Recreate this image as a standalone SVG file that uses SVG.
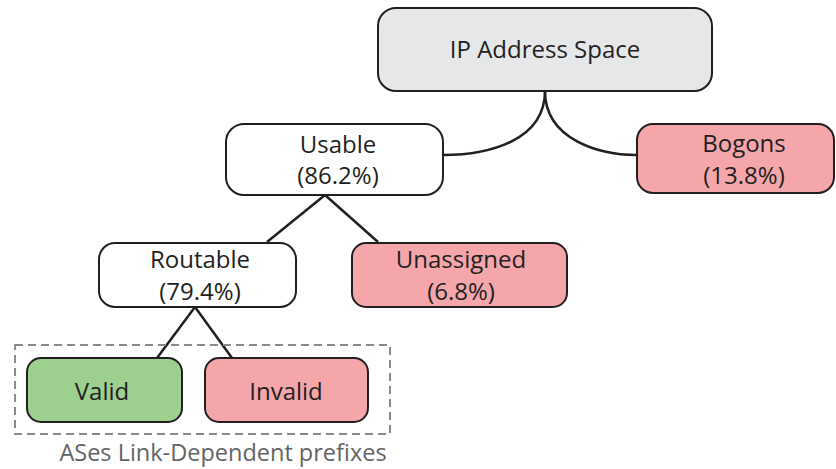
<svg xmlns="http://www.w3.org/2000/svg" width="836" height="469" viewBox="0 0 836 469">
<style>
.box{stroke:#231f20;stroke-width:2}
.grey{fill:#e6e7e8}
.white{fill:#ffffff}
.pink{fill:#f5a6ab}
.green{fill:#9dd08e}
.t{font-family:"Open Sans","Liberation Sans",sans-serif;font-size:24px;fill:#231f20;text-anchor:middle}
.conn{fill:none;stroke:#231f20;stroke-width:2.5}
</style>
<rect width="836" height="469" fill="#ffffff"/>
<g id="connectors">
<path class="conn" d="M545,91 C545,140 490,155 443,155"/>
<path class="conn" d="M545,91 C545,140 600,155 637,155"/>
<path class="conn" d="M325,195 L267,242"/>
<path class="conn" d="M325,195 L378,242"/>
<path class="conn" d="M195,307 L157,358"/>
<path class="conn" d="M195,307 L232,358"/>
</g>
<g id="group-ases">
<rect x="15" y="345" width="375" height="89" fill="none" stroke="#8a8a8c" stroke-width="2" stroke-dasharray="8,5"/>
<text class="t" x="223" y="461" style="fill:#636466;font-size:23.5px">ASes Link-Dependent prefixes</text>
</g>
<g id="ip">
<rect class="box grey" x="378" y="8" width="334" height="83" rx="18"/>
<text class="t" x="545" y="58">IP Address Space</text>
</g>
<g id="usable">
<rect class="box white" x="226" y="124" width="217" height="71" rx="18"/>
<text class="t" x="338" y="153">Usable</text>
<text class="t" x="338" y="184">(86.2%)</text>
</g>
<g id="bogons">
<rect class="box pink" x="637" y="124" width="197" height="69" rx="16"/>
<text class="t" x="744" y="152">Bogons</text>
<text class="t" x="744" y="184">(13.8%)</text>
</g>
<g id="routable">
<rect class="box white" x="99" y="243" width="197" height="64" rx="16"/>
<text class="t" x="200" y="268">Routable</text>
<text class="t" x="200" y="300">(79.4%)</text>
</g>
<g id="unassigned">
<rect class="box pink" x="352" y="243" width="215" height="64" rx="14"/>
<text class="t" x="461" y="268">Unassigned</text>
<text class="t" x="461" y="300">(6.8%)</text>
</g>
<g id="valid">
<rect class="box green" x="27" y="358" width="155" height="64" rx="14"/>
<text class="t" x="102" y="400">Valid</text>
</g>
<g id="invalid">
<rect class="box pink" x="205" y="358" width="163" height="64" rx="14"/>
<text class="t" x="286" y="400">Invalid</text>
</g>
</svg>
